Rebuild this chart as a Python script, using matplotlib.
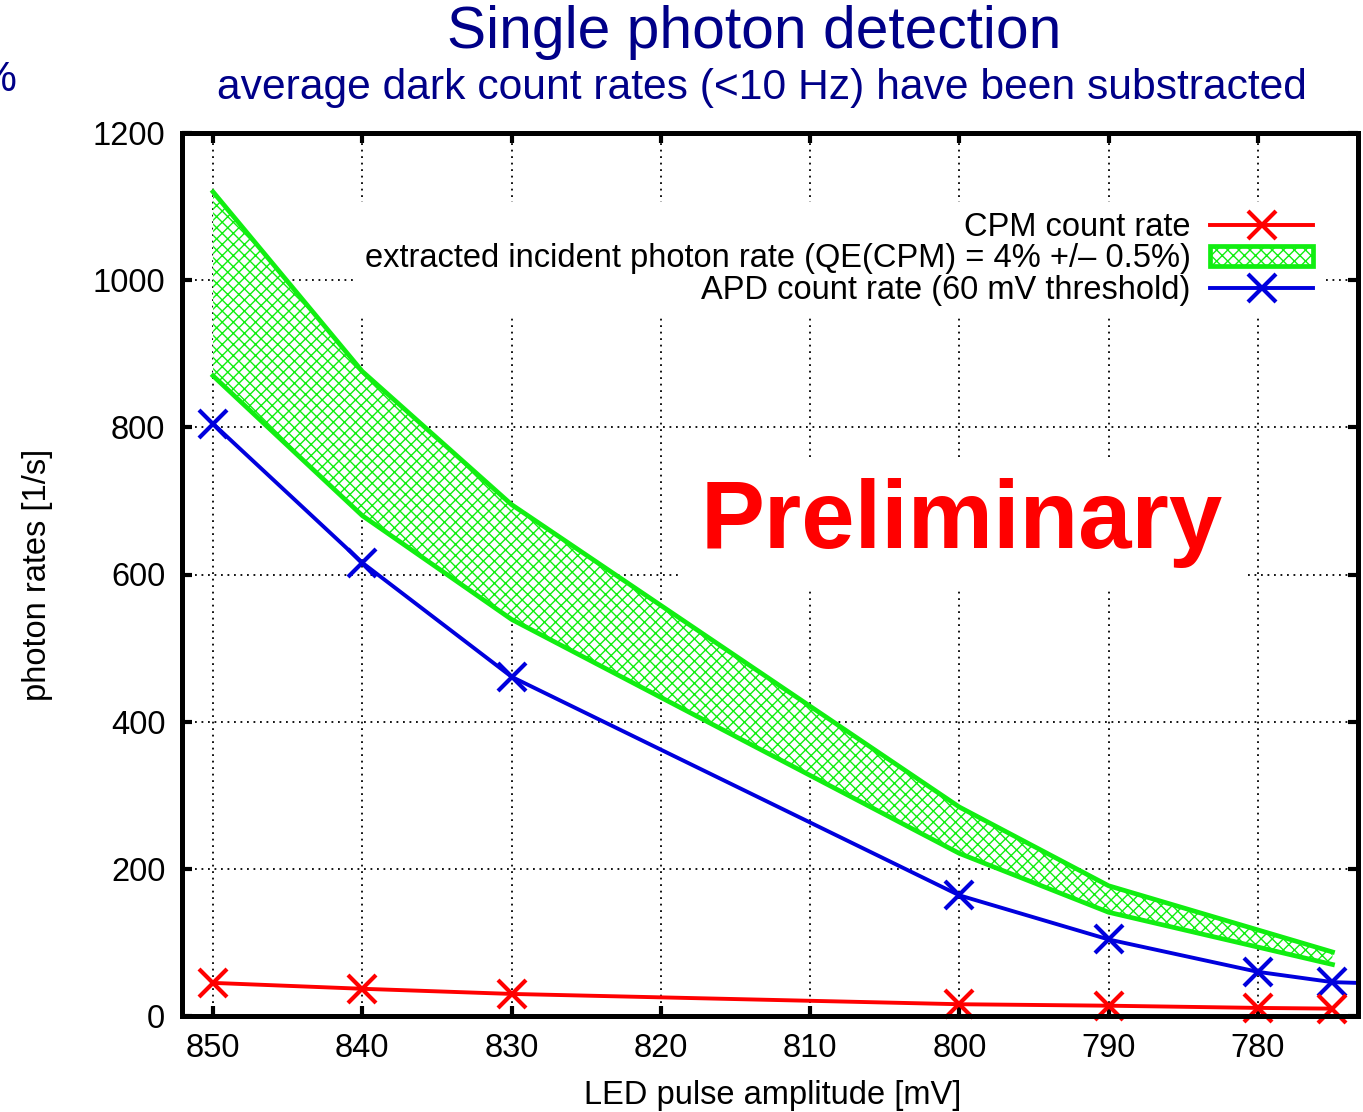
import matplotlib
matplotlib.use('Agg')
import matplotlib.pyplot as plt
from matplotlib.lines import Line2D
from matplotlib.patches import Patch

plt.rcParams['font.family'] = ['Liberation Sans', 'DejaVu Sans']
plt.rcParams['hatch.linewidth'] = 1.0

# data
led_mv = [850, 840, 830, 800, 790, 780, 775]
cpm_rate = [45, 37, 30, 16, 14, 11, 10]
apd_mv = [850, 840, 830, 800, 790, 780, 775, 770]
apd_rate = [805, 616, 461, 164, 104, 60, 46, 43]
band_mv = [850, 840, 830, 800, 790, 775]
band_high = [1120, 876, 695, 284, 177, 87]
band_low = [870, 680, 539, 221, 141, 70]

x_ticks = [850, 840, 830, 820, 810, 800, 790, 780]
y_ticks = [0, 200, 400, 600, 800, 1000, 1200]

red = '#ff0000'
blue = '#0000dd'
green = '#11ee11'
navy = '#000088'
fs = 23.5

W, H = 1363, 1112
fig = plt.figure(figsize=(W / 100, H / 100), dpi=100)
ax = fig.add_axes([182 / W, 1 - 1016 / H, 1176 / W, 883 / H])

# green band (QE range)
ax.fill_between(band_mv, band_low, band_high, facecolor='white', edgecolor=green,
                hatch='xxx', linewidth=0, zorder=2)
ax.plot(band_mv, band_high, color=green, lw=3.4, zorder=2.1)
ax.plot(band_mv, band_low, color=green, lw=3.4, zorder=2.1)

ax.plot(apd_mv, apd_rate, color=blue, lw=2.8, marker='x', ms=20, mew=3, zorder=2.2)
ax.plot(led_mv, cpm_rate, color=red, lw=2.8, marker='x', ms=20, mew=3, zorder=2.2,
        clip_on=False)

ax.set_xlim(852.08, 773.29)
ax.set_ylim(0, 1200)
ax.set_xticks(x_ticks)
ax.set_yticks(y_ticks)
ax.tick_params(direction='in', length=7, width=3, labelsize=fs, pad=12,
               top=True, right=True)
for s in ax.spines.values():
    s.set_linewidth(3.6)
ax.grid(True, color='black', linestyle=(0, (1, 2.6)), linewidth=1.3)
ax.set_axisbelow(True)

ax.set_xlabel('LED pulse amplitude [mV]', fontsize=fs)
ax.xaxis.set_label_coords(0.502, -0.072)
ax.set_ylabel('photon rates [1/s]', fontsize=fs)
ax.yaxis.set_label_coords(-0.11, 0.5)

handles = [
    Line2D([], [], color=red, lw=2.8, marker='x', ms=20, mew=3),
    Patch(facecolor='white', edgecolor=green, hatch='xxx', lw=3.4),
    Line2D([], [], color=blue, lw=2.8, marker='x', ms=20, mew=3),
]
labels = ['CPM count rate',
          'extracted incident photon rate (QE(CPM) = 4% +/– 0.5%)',
          'APD count rate (60 mV threshold)']
leg = ax.legend(handles, labels, loc='upper right', bbox_to_anchor=(1323 / W, 1 - 202 / H),
                bbox_transform=fig.transFigure, markerfirst=False, fontsize=fs,
                handlelength=3.15, handleheight=0.55, handletextpad=0.6, labelspacing=0.02,
                borderpad=0.3, borderaxespad=0, frameon=True, fancybox=False,
                framealpha=1, facecolor='white', edgecolor='none')
leg.set_zorder(5)

ax.text(0.663, 0.530, 'Preliminary', transform=ax.transAxes, ha='center', va='baseline',
        fontsize=69, fontweight='bold', color=red, zorder=5,
        bbox=dict(facecolor='white', edgecolor='none', pad=15))

fig.text(754 / W, 1 - 33 / H, 'Single photon detection', ha='center', va='center',
         fontsize=42.3, color=navy)
fig.text(762 / W, 1 - 88 / H, 'average dark count rates (<10 Hz) have been substracted',
         ha='center', va='center', fontsize=30.7, color=navy)
fig.text(16 / W, 1 - 80 / H, '%', ha='right', va='center', fontsize=30.7, color=navy)

fig.savefig('out.png', dpi=100)
